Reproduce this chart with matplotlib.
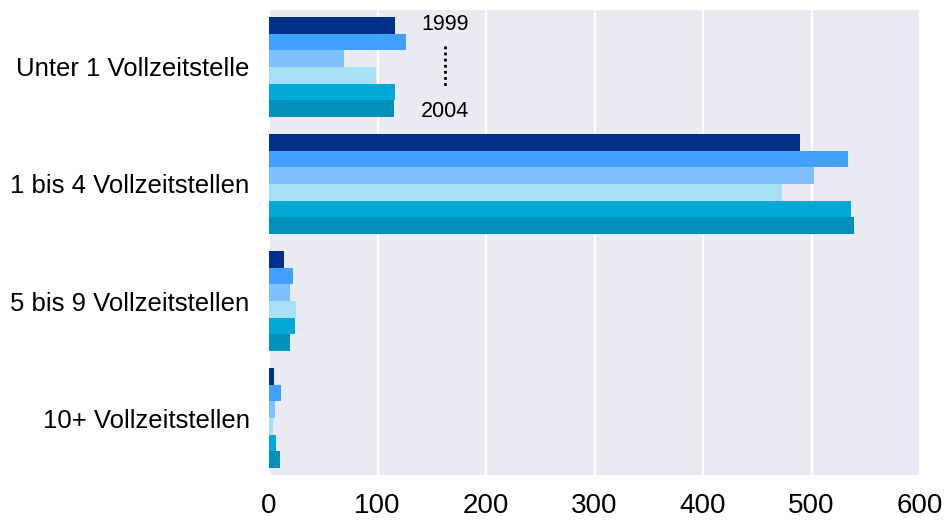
import matplotlib.pyplot as plt
import numpy as np

plt.rcParams['font.family'] = ['Liberation Sans', 'DejaVu Sans']

categories = ["Unter 1 Vollzeitstelle", "1 bis 4 Vollzeitstellen",
              "5 bis 9 Vollzeitstellen", "10+ Vollzeitstellen"]
years = ["1999", "2000", "2001", "2002", "2003", "2004"]
values = {
    "1999": [116, 489, 14, 4.5],
    "2000": [126, 534, 22, 11],
    "2001": [69, 502, 19, 5.5],
    "2002": [99, 473, 25, 4],
    "2003": [116, 536, 24, 6.5],
    "2004": [115, 539, 19, 10],
}
colors = ["#003087", "#409FFF", "#80BFFF", "#A8E0F5", "#00A9D6", "#0090BC"]
xticks = [0, 100, 200, 300, 400, 500, 600]

fig = plt.figure(figsize=(9.46, 5.21), dpi=100)
ax = fig.add_axes([0.2844, 0.0883, 0.6882, 0.8925])
ax.set_facecolor("#EAEAF2")

y = np.arange(len(categories))
h = 0.855 / len(years)
for i, yr in enumerate(years):
    off = (i - (len(years) - 1) / 2) * h
    ax.barh(y + off, values[yr], height=h, color=colors[i], zorder=3)

ax.set_xlim(0, 600)
ax.set_ylim(3.487, -0.487)
ax.set_xticks(xticks)
ax.set_xticklabels([str(t) for t in xticks])
ax.set_yticks(y)
ax.set_yticklabels(categories, fontsize=18.5)
ax.tick_params(axis="both", length=0)
ax.tick_params(axis="x", labelsize=20, pad=13)
ax.tick_params(axis="y", pad=14)
ax.grid(axis="x", color="white", linewidth=1.6, zorder=1)
ax.set_axisbelow(True)
for s in ax.spines.values():
    s.set_visible(False)

# year legend next to first group
ax.text(162, -0.36, "1999", ha="center", va="center", fontsize=15.5)
ax.text(162, 0.38, "2004", ha="center", va="center", fontsize=15.5)
ax.plot([162, 162], [-0.18, 0.18], color="black", linestyle=(0, (1, 1.2)),
        linewidth=2, zorder=4)

fig.savefig("out.png", dpi=100)
